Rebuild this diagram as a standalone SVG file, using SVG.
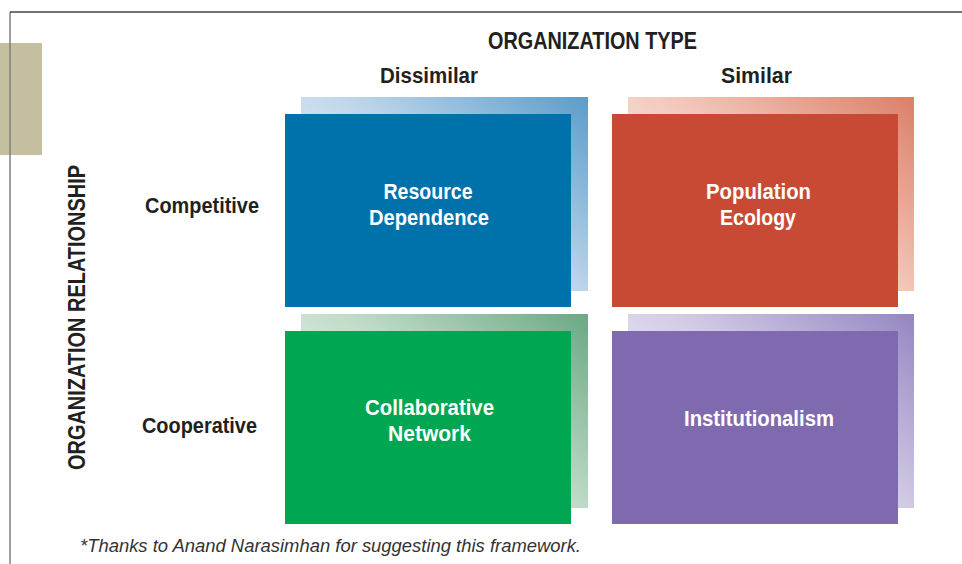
<svg xmlns="http://www.w3.org/2000/svg" width="962" height="564" viewBox="0 0 962 564">
<style>
.hd{font-family:"Liberation Sans",Arial,sans-serif;font-weight:bold;fill:#231f20;text-anchor:middle}
.lb{font-family:"Liberation Sans",Arial,sans-serif;font-weight:bold;fill:#ffffff;text-anchor:middle;font-size:22.5px}
.fn{font-family:"Liberation Sans",Arial,sans-serif;font-style:italic;fill:#333333;font-size:18px}
</style>
<defs>
<linearGradient id="gb" x1="0" y1="0.8" x2="1" y2="0"><stop offset="0" stop-color="#f2f7fb"/><stop offset="0.5" stop-color="#bdd5ea"/><stop offset="1" stop-color="#5a9cca"/></linearGradient>
<linearGradient id="gr" x1="0" y1="0.8" x2="1" y2="0"><stop offset="0" stop-color="#fdf3f0"/><stop offset="0.5" stop-color="#f2c6b9"/><stop offset="1" stop-color="#db7f68"/></linearGradient>
<linearGradient id="gg" x1="0" y1="0.8" x2="1" y2="0"><stop offset="0" stop-color="#f1f7f3"/><stop offset="0.5" stop-color="#bfdbc7"/><stop offset="1" stop-color="#6aa884"/></linearGradient>
<linearGradient id="gp" x1="0" y1="0.8" x2="1" y2="0"><stop offset="0" stop-color="#f5f4fa"/><stop offset="0.5" stop-color="#d2cbe5"/><stop offset="1" stop-color="#9486c2"/></linearGradient>
</defs>
<rect x="0" y="0" width="962" height="564" fill="#ffffff"/>
<rect x="0" y="43" width="42" height="112" fill="#c4c09f"/>
<line x1="10" y1="12" x2="10" y2="564" stroke="#808080" stroke-width="1.5"/>
<line x1="10" y1="12" x2="962" y2="12" stroke="#444444" stroke-width="1.5"/>
<text class="hd" x="592.5" y="49" font-size="23" textLength="209" lengthAdjust="spacingAndGlyphs">ORGANIZATION TYPE</text>
<text class="hd" x="429" y="83" font-size="22.5" textLength="98" lengthAdjust="spacingAndGlyphs">Dissimilar</text>
<text class="hd" x="756.5" y="83" font-size="22.5" textLength="71" lengthAdjust="spacingAndGlyphs">Similar</text>
<text class="hd" x="202" y="213" font-size="22.5" textLength="114" lengthAdjust="spacingAndGlyphs">Competitive</text>
<text class="hd" x="199.5" y="433" font-size="22.5" textLength="115" lengthAdjust="spacingAndGlyphs">Cooperative</text>
<text class="hd" transform="translate(85,317.5) rotate(-90)" x="0" y="0" font-size="23" textLength="305" lengthAdjust="spacingAndGlyphs">ORGANIZATION RELATIONSHIP</text>
<g id="resource-dependence">
<rect x="301" y="97" width="287" height="194" fill="url(#gb)"/>
<rect x="285" y="114" width="286" height="193" fill="#0072ab"/>
<text class="lb" x="428" y="199" textLength="89" lengthAdjust="spacingAndGlyphs">Resource</text>
<text class="lb" x="429" y="225" textLength="120" lengthAdjust="spacingAndGlyphs">Dependence</text>
</g>
<g id="population-ecology">
<rect x="628" y="97" width="286" height="194" fill="url(#gr)"/>
<rect x="612" y="114" width="286" height="193" fill="#c84a35"/>
<text class="lb" x="758.5" y="199" textLength="105" lengthAdjust="spacingAndGlyphs">Population</text>
<text class="lb" x="758" y="225" textLength="76" lengthAdjust="spacingAndGlyphs">Ecology</text>
</g>
<g id="collaborative-network">
<rect x="301" y="314" width="287" height="194" fill="url(#gg)"/>
<rect x="285" y="331" width="286" height="193" fill="#00a651"/>
<text class="lb" x="429.5" y="415" textLength="129" lengthAdjust="spacingAndGlyphs">Collaborative</text>
<text class="lb" x="429.5" y="441" textLength="83" lengthAdjust="spacingAndGlyphs">Network</text>
</g>
<g id="institutionalism">
<rect x="628" y="314" width="286" height="194" fill="url(#gp)"/>
<rect x="612" y="331" width="286" height="193" fill="#7f6aaf"/>
<text class="lb" x="759" y="426" textLength="150" lengthAdjust="spacingAndGlyphs">Institutionalism</text>
</g>
<g id="connectors"></g>
<text class="fn" x="80" y="552" textLength="501" lengthAdjust="spacingAndGlyphs">*Thanks to Anand Narasimhan for suggesting this framework.</text>
</svg>
